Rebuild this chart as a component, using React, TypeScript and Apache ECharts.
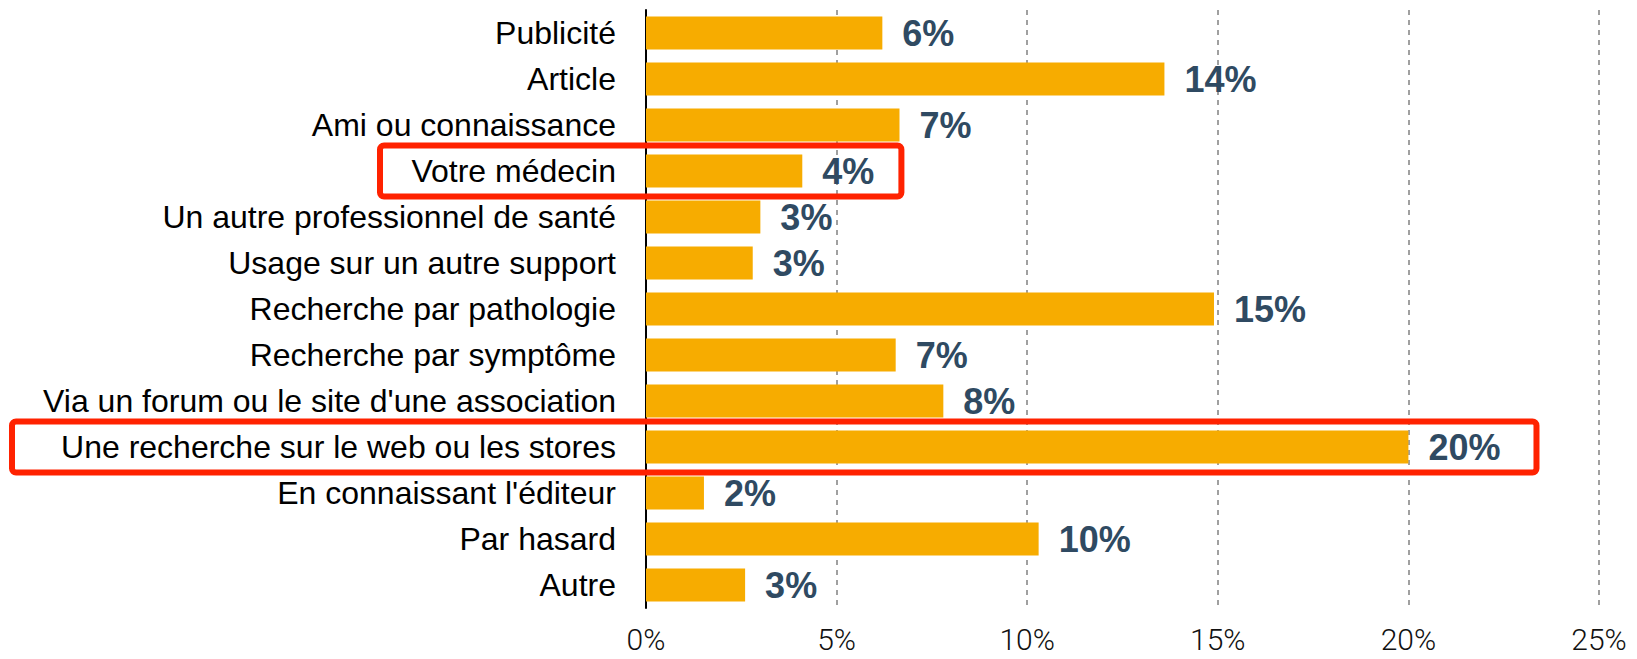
import React, { useEffect, useRef } from "react";
import * as echarts from "echarts";

const categories = [
  "Publicité",
  "Article",
  "Ami ou connaissance",
  "Votre médecin",
  "Un autre professionnel de santé",
  "Usage sur un autre support",
  "Recherche par pathologie",
  "Recherche par symptôme",
  "Via un forum ou le site d'une association",
  "Une recherche sur le web ou les stores",
  "En connaissant l'éditeur",
  "Par hasard",
  "Autre",
];
const values = [6.2, 13.6, 6.65, 4.1, 3.0, 2.8, 14.9, 6.55, 7.8, 20.0, 1.52, 10.3, 2.6];
const xTicks = [0, 5, 10, 15, 20, 25];
// highlighted categories: [category, left pixel of box, right end (value units)]
const highlights: [string, number, number][] = [
  ["Votre médecin", 380, 6.7],
  ["Une recherche sur le web ou les stores", 12, 23.36],
];

export default function App() {
  const ref = useRef<HTMLDivElement>(null);
  useEffect(() => {
    document.body.style.margin = "0";
    const chart = echarts.init(ref.current!, null, { renderer: "svg" });
    chart.setOption({
      animation: false,
      grid: { left: 646, right: 38, top: 10, bottom: 51 },
      xAxis: {
        type: "value",
        min: 0,
        max: 25,
        interval: 5,
        axisLine: { show: false },
        axisTick: { show: false },
        axisLabel: {
          formatter: (v: number) => (xTicks.includes(v) ? v + "%" : ""),
          fontFamily: "Roboto",
          fontWeight: 300,
          fontSize: 30,
          color: "#111",
          margin: 16,
        },
        splitLine: {
          show: true,
          lineStyle: { color: "#a0a0a0", width: 2, type: [5, 5] },
        },
      },
      yAxis: {
        type: "category",
        data: categories,
        inverse: true,
        axisLine: { show: true, lineStyle: { color: "#000", width: 2 } },
        axisTick: { show: false },
        axisLabel: {
          fontFamily: "Liberation Sans, Arial, sans-serif",
          fontSize: 32,
          color: "#000",
          margin: 30,
        },
      },
      series: [
        {
          type: "bar",
          data: values,
          barCategoryGap: "28%",
          itemStyle: { color: "#F7AC00" },
          z: 1,
          label: {
            show: true,
            position: "right",
            distance: 20,
            formatter: (p: any) => Math.round(p.value) + "%",
            fontFamily: "Liberation Sans, Arial, sans-serif",
            fontWeight: "bold",
            fontSize: 36,
            color: "#2F4A62",
          },
        },
      ],
    });
    const graphics = highlights.map(([cat, left, rightVal]) => {
      const cy = chart.convertToPixel({ yAxisIndex: 0 }, cat) as number;
      const xr = chart.convertToPixel({ xAxisIndex: 0 }, rightVal) as number;
      const h = 51;
      return {
        type: "rect",
        shape: { x: left, y: cy - h / 2, width: xr - left, height: h, r: 4 },
        style: { fill: "none", stroke: "#FF2200", lineWidth: 6 },
        z: 100,
      };
    });
    chart.setOption({ graphic: graphics });
    return () => chart.dispose();
  }, []);
  return <div ref={ref} style={{ width: 1637, height: 659 }} />;
}
